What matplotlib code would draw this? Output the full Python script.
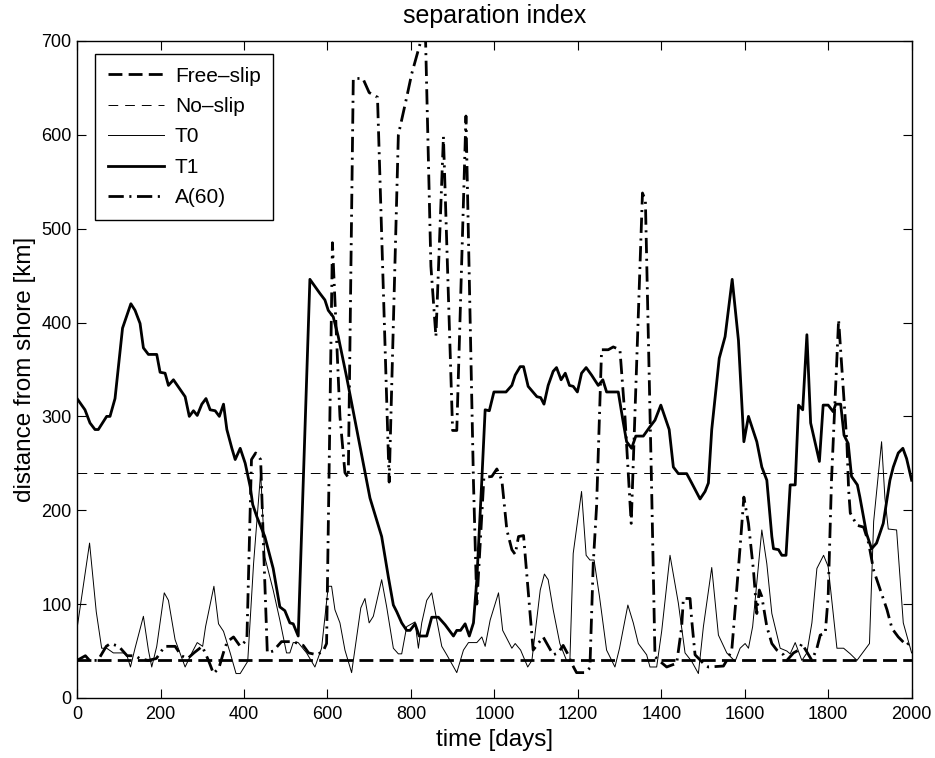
import matplotlib
matplotlib.use('Agg')
import matplotlib.pyplot as plt

plt.rcParams['font.family'] = ['Liberation Sans', 'DejaVu Sans']
plt.rcParams['lines.scale_dashes'] = False

# reference levels
free_slip = 40
no_slip = 240
x_range = [0, 2000]

# T1 (thick solid)
t1_days = [0, 19, 31, 43, 51, 71, 79, 91, 109, 129, 139, 151, 159, 171, 191, 199, 211, 219, 231,
           259, 269, 279, 288, 299, 309, 319, 331, 341, 351, 359, 371, 379, 391, 403, 415, 421,
           431, 439, 450, 470, 486, 498, 510, 518, 530, 558, 582, 594, 602, 614, 626, 646, 678,
           702, 730, 746, 758, 766, 778, 790, 798, 810, 820, 838, 850, 866, 882, 902, 910, 919,
           930, 940, 950, 958, 970, 978, 988, 999, 1028, 1042, 1050, 1062, 1070, 1081, 1102,
           1111, 1119, 1129, 1141, 1149, 1160, 1170, 1180, 1189, 1199, 1209, 1220, 1233, 1249,
           1260, 1269, 1297, 1308, 1317, 1329, 1339, 1357, 1373, 1385, 1399, 1419, 1429, 1441,
           1461, 1473, 1493, 1505, 1513, 1521, 1539, 1553, 1570, 1585, 1598, 1609, 1629, 1641,
           1653, 1665, 1669, 1681, 1689, 1699, 1709, 1721, 1729, 1739, 1749, 1758, 1779, 1788,
           1800, 1812, 1818, 1830, 1838, 1848, 1856, 1870, 1876, 1892, 1904, 1916, 1932, 1948,
           1956, 1968, 1979, 1988, 2000]
t1_vals = [319, 307, 293, 286, 286, 300, 300, 319, 394, 420, 413, 399, 373, 366, 366, 347, 346,
           333, 339, 321, 300, 306, 301, 313, 319, 307, 306, 300, 313, 286, 266, 254, 266, 250,
           225, 206, 193, 184, 172, 138, 97, 93, 80, 79, 66, 446, 431, 424, 413, 406, 385, 342,
           268, 213, 172, 129, 99, 92, 80, 72, 72, 79, 66, 66, 86, 86, 78, 66, 72, 72, 79, 66,
           80, 126, 232, 307, 306, 326, 326, 333, 344, 353, 353, 332, 321, 320, 313, 333, 348,
           352, 339, 346, 333, 332, 326, 346, 352, 344, 333, 339, 326, 326, 296, 273, 266, 279,
           279, 289, 296, 312, 286, 246, 239, 239, 229, 212, 220, 229, 286, 362, 385, 446, 381,
           273, 300, 273, 246, 232, 172, 159, 158, 152, 152, 227, 227, 312, 307, 387, 293, 252,
           312, 312, 305, 313, 313, 280, 271, 236, 227, 214, 175, 159, 165, 186, 232, 246, 261,
           266, 255, 232]

# T0 (thin solid)
t0_days = [0, 30, 46, 59, 71, 87, 111, 119, 128, 139, 159, 171, 179, 191, 209, 219, 235, 259,
           275, 288, 301, 308, 328, 339, 351, 367, 381, 391, 409, 423, 440, 450, 470, 486, 502,
           510, 518, 530, 550, 570, 586, 602, 610, 618, 630, 642, 658, 680, 690, 700, 710, 730,
           742, 758, 770, 778, 790, 810, 818, 826, 838, 850, 862, 874, 886, 910, 926, 938, 958,
           970, 978, 990, 1010, 1020, 1042, 1050, 1063, 1080, 1090, 1110, 1120, 1129, 1141,
           1157, 1173, 1181, 1189, 1209, 1220, 1229, 1239, 1252, 1269, 1289, 1300, 1320, 1333,
           1345, 1365, 1373, 1389, 1401, 1421, 1441, 1457, 1473, 1489, 1501, 1521, 1537, 1557,
           1577, 1589, 1601, 1609, 1619, 1641, 1653, 1665, 1685, 1701, 1709, 1721, 1737, 1749,
           1761, 1773, 1789, 1800, 1821, 1837, 1853, 1869, 1899, 1909, 1928, 1936, 1944, 1964,
           1980, 2000]
t0_vals = [74, 165, 92, 53, 53, 48, 48, 46, 33, 53, 87, 51, 33, 55, 112, 104, 62, 33, 48, 59,
           55, 76, 119, 79, 71, 48, 26, 26, 39, 143, 240, 150, 115, 83, 48, 48, 59, 59, 48, 33,
           53, 119, 119, 94, 80, 51, 27, 96, 106, 80, 87, 126, 97, 53, 47, 47, 76, 81, 53, 80,
           104, 112, 83, 55, 46, 27, 51, 59, 59, 65, 55, 83, 112, 72, 53, 58, 51, 33, 40, 115,
           132, 126, 94, 58, 40, 39, 154, 220, 152, 147, 147, 108, 51, 33, 53, 99, 80, 58, 46,
           33, 33, 71, 152, 101, 48, 39, 26, 76, 139, 67, 48, 39, 53, 58, 53, 76, 179, 143, 90,
           53, 50, 47, 59, 40, 48, 80, 138, 152, 140, 53, 53, 47, 40, 58, 188, 273, 213, 180,
           179, 80, 48]

# A(60) (thick dash-dot)
a60_days = [0, 20, 30, 50, 70, 80, 100, 120, 140, 150, 170, 190, 210, 235, 250, 265, 280, 300,
            315, 327, 340, 352, 360, 375, 391, 407, 418, 428, 440, 447, 456, 470, 490, 518, 542,
            555, 575, 590, 598, 612, 630, 642, 650, 662, 685, 700, 720, 748, 770, 790, 802, 822,
            835, 848, 860, 878, 900, 910, 932, 950, 958, 975, 994, 1006, 1018, 1030, 1042, 1050,
            1058, 1070, 1081, 1093, 1105, 1117, 1141, 1153, 1165, 1177, 1185, 1197, 1217, 1229,
            1237, 1245, 1257, 1273, 1285, 1301, 1313, 1328, 1355, 1362, 1377, 1385, 1397, 1413,
            1437, 1449, 1453, 1469, 1473, 1481, 1505, 1513, 1549, 1557, 1569, 1577, 1589, 1598,
            1609, 1621, 1629, 1635, 1641, 1653, 1665, 1677, 1693, 1701, 1717, 1729, 1737, 1761,
            1773, 1781, 1793, 1800, 1808, 1825, 1845, 1849, 1853, 1869, 1885, 1897, 1909, 1925,
            1941, 1953, 1968, 1988, 2000]
a60_vals = [40, 45, 40, 40, 55, 58, 55, 45, 45, 42, 40, 42, 55, 55, 45, 42, 48, 55, 40, 26, 32,
            50, 60, 65, 55, 62, 254, 261, 254, 160, 48, 50, 60, 60, 56, 48, 46, 50, 58, 485, 300,
            240, 235, 660, 660, 645, 640, 230, 600, 640, 665, 697, 705, 460, 385, 598, 285, 285,
            620, 230, 100, 235, 236, 244, 232, 179, 158, 153, 172, 173, 115, 51, 58, 65, 46, 48,
            56, 46, 37, 27, 27, 32, 143, 204, 371, 371, 374, 371, 300, 186, 538, 530, 222, 44,
            39, 33, 37, 76, 106, 106, 83, 46, 35, 33, 34, 40, 51, 94, 161, 214, 186, 136, 90,
            115, 108, 76, 58, 51, 46, 40, 48, 51, 58, 40, 53, 67, 69, 108, 232, 403, 271, 222,
            197, 184, 182, 165, 136, 115, 94, 74, 65, 56, 62]

fig = plt.figure(figsize=(9.35, 7.58), dpi=100)
ax = fig.add_axes([0.0824, 0.0792, 0.8926, 0.8668])

ax.plot(x_range, [free_slip, free_slip], color='black', linewidth=2.0,
        dashes=(10, 4.5), label='Free\u2013slip')
ax.plot(x_range, [no_slip, no_slip], color='black', linewidth=0.7,
        dashes=(7, 5), label='No\u2013slip')
ax.plot(t0_days, t0_vals, color='black', linewidth=0.7, label='T0')
ax.plot(t1_days, t1_vals, color='black', linewidth=2.0, label='T1')
ax.plot(a60_days, a60_vals, color='black', linewidth=2.0,
        dashes=(11, 4, 1.5, 4), label='A(60)')

ax.set_xlim(0, 2000)
ax.set_ylim(0, 700)
ax.set_xticks(range(0, 2001, 200))
ax.set_yticks(range(0, 701, 100))
ax.tick_params(direction='in', length=6.5, top=True, right=True, labelsize=13, width=0.8,
               pad=4)
ax.tick_params(axis='x', pad=6)
for sp in ax.spines.values():
    sp.set_linewidth(1.0)

ax.set_xlabel('time [days]', fontsize=17.5, labelpad=4)
ax.set_ylabel('distance from shore [km]', fontsize=17.5, labelpad=4)
ax.set_title('separation index', fontsize=18, pad=13)

leg = ax.legend(loc='upper left', bbox_to_anchor=(0.0216, 0.98), borderaxespad=0,
                fontsize=15, fancybox=False, edgecolor='black', framealpha=1,
                handlelength=2.7, handletextpad=0.53, labelspacing=0.55, borderpad=0.6)
leg.get_frame().set_linewidth(1.0)

fig.savefig('out.png', dpi=100)
